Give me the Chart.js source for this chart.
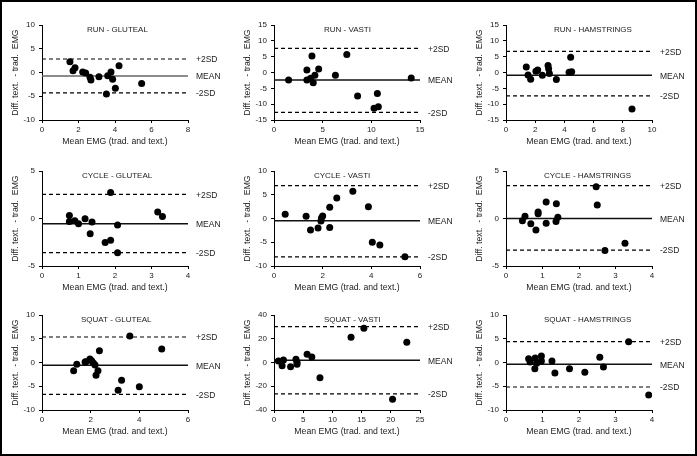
<!DOCTYPE html>
<html>
<head>
<meta charset="utf-8">
<script src="https://cdn.jsdelivr.net/npm/chart.js@4.4.1/dist/chart.umd.min.js"></script>
<style>
  html, body { margin: 0; padding: 0; background: #fff; }
  #frame { position: relative; width: 697px; height: 456px; box-sizing: border-box; border: 2px solid #000; }
  #frame canvas { position: absolute; }
</style>
</head>
<body>
<div id="frame"></div>
<script>
// ---- data (mean EMG vs difference) ----
const runGlutealMean = [1.53, 1.70, 1.81, 2.23, 2.39, 2.63, 2.68, 3.12, 3.53, 3.60, 3.78, 3.87, 4.02, 4.22, 5.46];
const runGlutealDiff = [2.28, 0.39, 1.0, 0.1, -0.1, -1.0, -1.6, -0.9, -4.5, -0.7, 0.1, -1.4, -3.3, 1.4, -2.3];
const runGlutealLimits = [2.84, -0.74, -4.3];

const runVastiMean = [1.5, 3.38, 3.38, 3.76, 3.9, 4.03, 4.2, 4.59, 6.31, 7.48, 8.59, 10.28, 10.62, 10.72, 14.1];
const runVastiDiff = [-2.4, 0.8, -2.4, -1.8, 5.2, -3.2, -0.9, 1.1, -0.9, 5.7, -7.4, -11.3, -6.6, -10.8, -1.7];
const runVastiLimits = [7.6, -2.4, -12.6];

const runHamsMean = [1.39, 1.51, 1.69, 2.05, 2.17, 2.49, 2.88, 2.92, 2.97, 3.45, 4.32, 4.43, 4.5, 8.63];
const runHamsDiff = [1.7, -0.8, -2.1, 0.4, 0.8, -0.9, 2.2, 1.2, -0.3, -2.2, 0.05, 4.8, 0.2, -11.5];
const runHamsLimits = [6.7, -0.9, -7.4];

const cycleGlutealMean = [0.75, 0.75, 0.9, 1.0, 1.18, 1.32, 1.37, 1.73, 1.88, 1.88, 2.07, 2.07, 3.17, 3.3];
const cycleGlutealDiff = [0.31, -0.31, -0.24, -0.56, -0.03, -1.6, -0.38, -2.53, 2.74, -2.29, -0.69, -3.6, 0.69, 0.21];
const cycleGlutealLimits = [2.53, -0.56, -3.6];

const cycleVastiMean = [0.46, 1.32, 1.5, 1.81, 1.93, 1.95, 2.0, 2.29, 2.29, 2.58, 3.24, 3.88, 4.04, 4.35, 5.38];
const cycleVastiDiff = [0.9, 0.49, -2.43, -2.0, -0.55, 0.1, 0.55, -1.9, 2.36, 4.3, 5.76, 2.5, -5.0, -5.6, -8.06];
const cycleVastiLimits = [6.94, -0.49, -8.06];

const cycleHamsMean = [0.45, 0.52, 0.68, 0.82, 0.88, 0.88, 1.1, 1.1, 1.37, 1.38, 1.42, 2.47, 2.5, 2.71, 3.26];
const cycleHamsDiff = [-0.24, 0.24, -0.56, -1.22, 0.69, 0.49, -0.49, 1.74, -0.31, 1.56, 0.14, 3.33, 1.42, -3.37, -2.6];
const cycleHamsLimits = [3.47, 0.0, -3.33];

const squatGlutealMean = [1.3, 1.43, 1.77, 1.8, 1.97, 2.04, 2.11, 2.18, 2.22, 2.3, 2.36, 3.13, 3.27, 3.61, 4.0, 4.92];
const squatGlutealDiff = [-1.72, -0.39, 0.1, 0.15, 0.74, 0.39, -0.1, -0.53, -2.7, -1.72, 2.49, -5.86, -3.75, 5.58, -5.09, 2.84];
const squatGlutealLimits = [5.37, -0.6, -6.7];

const squatVastiMean = [0.75, 1.39, 1.62, 2.84, 3.76, 3.94, 3.94, 5.67, 6.48, 7.87, 13.19, 15.39, 20.3, 22.74];
const squatVastiDiff = [1.26, -2.67, 2.1, -3.5, 2.67, 0.14, -1.54, 6.88, 4.63, -12.77, 21.19, 28.77, -31.0, 16.98];
const squatVastiLimits = [30.2, 1.82, -26.5];

const squatHamsMean = [0.62, 0.66, 0.8, 0.79, 0.84, 0.97, 0.97, 1.26, 1.34, 1.74, 2.16, 2.57, 2.67, 3.36, 3.91];
const squatHamsDiff = [0.81, 0.1, 0.95, -1.3, -0.18, 1.37, 0.32, 0.32, -2.21, -1.3, -2.07, 1.09, -0.95, 4.39, -6.84];
const squatHamsLimits = [4.39, -0.39, -5.16];

// panel titles and axis ranges: [max, step] for x, [min, max, step] for y
const panelTitles = ['RUN - GLUTEAL', 'RUN - VASTI', 'RUN - HAMSTRINGS',
                     'CYCLE - GLUTEAL', 'CYCLE - VASTI', 'CYCLE - HAMSTRINGS',
                     'SQUAT - GLUTEAL', 'SQUAT - VASTI', 'SQUAT - HAMSTRINGS'];
const xRanges = [[8, 2], [15, 5], [10, 2], [4, 1], [6, 2], [4, 1], [6, 2], [25, 5], [4, 1]];
const yRanges = [[-10, 10, 5], [-15, 15, 5], [-15, 15, 5], [-5, 5, 5], [-10, 10, 5], [-5, 5, 5],
                 [-10, 10, 5], [-40, 40, 20], [-10, 10, 5]];
const limitLabels = ['+2SD', 'MEAN', '-2SD'];

const panels = [
  [runGlutealMean, runGlutealDiff, runGlutealLimits],
  [runVastiMean, runVastiDiff, runVastiLimits],
  [runHamsMean, runHamsDiff, runHamsLimits],
  [cycleGlutealMean, cycleGlutealDiff, cycleGlutealLimits],
  [cycleVastiMean, cycleVastiDiff, cycleVastiLimits],
  [cycleHamsMean, cycleHamsDiff, cycleHamsLimits],
  [squatGlutealMean, squatGlutealDiff, squatGlutealLimits],
  [squatVastiMean, squatVastiDiff, squatVastiLimits],
  [squatHamsMean, squatHamsDiff, squatHamsLimits]
];

// ---- layout ----
const CANVAS_W = 232, CANVAS_H = 150;
const colLeft = [0, 232, 464];
const rowTop = [0, 146, 290];
const titleOffset = [45, 50, 48, 40, 40, 38, 39, 50, 38];
const FONT = 'Liberation Sans, Arial, sans-serif';
const TEXT = '#222';

// draws the panel title and the +2SD / MEAN / -2SD labels
const panelText = {
  id: 'panelText',
  afterDraw(chart, args, opts) {
    const {ctx, chartArea, scales} = chart;
    ctx.save();
    ctx.fillStyle = TEXT;
    ctx.font = '8px ' + FONT;
    ctx.textBaseline = 'middle';
    ctx.textAlign = 'left';
    ctx.fillText(opts.title, chartArea.left + opts.titleX, chartArea.top + 5);
    ctx.font = '8.5px ' + FONT;
    opts.limits.forEach((v, k) => {
      ctx.fillText(limitLabels[k], chartArea.right + 8, scales.y.getPixelForValue(v) + 1);
    });
    ctx.restore();
  }
};

function limitLine(v, x0, x1, k) {
  return {
    type: 'line',
    data: [{x: x0, y: v}, {x: x1, y: v}],
    borderColor: k === 1 ? '#111' : '#000',
    borderWidth: k === 1 ? 1.5 : 1.2,
    borderDash: k === 1 ? [] : [4, 3],
    pointRadius: 0,
    fill: false
  };
}

const frame = document.getElementById('frame');

panels.forEach(([xs, ys, limits], i) => {
  const canvas = document.createElement('canvas');
  canvas.width = CANVAS_W;
  canvas.height = CANVAS_H;
  canvas.style.width = CANVAS_W + 'px';
  canvas.style.height = CANVAS_H + 'px';
  canvas.style.left = (colLeft[i % 3] - 2) + 'px';
  canvas.style.top = (rowTop[Math.floor(i / 3)] - 2) + 'px';
  frame.appendChild(canvas);

  const [xMax, xStep] = xRanges[i];
  const [yMin, yMax, yStep] = yRanges[i];

  const lines = limits.map((v, k) => limitLine(v, 0, xMax, k));
  if (i === 0) lines[1].borderColor = '#666';

  new Chart(canvas, {
    type: 'scatter',
    data: {
      datasets: [
        {
          data: xs.map((x, k) => ({x: x, y: ys[k]})),
          backgroundColor: '#000',
          borderColor: '#000',
          pointRadius: 3.5,
          pointBorderWidth: 0
        },
        ...lines
      ]
    },
    options: {
      responsive: false,
      animation: false,
      devicePixelRatio: 1,
      layout: { padding: { left: 0, top: 25, right: 44, bottom: 0 } },
      plugins: {
        legend: { display: false },
        tooltip: { enabled: false },
        panelText: { title: panelTitles[i], titleX: titleOffset[i], limits: limits }
      },
      scales: {
        x: {
          type: 'linear',
          min: 0,
          max: xMax,
          afterFit: s => { s.height = 30; },
          ticks: { stepSize: xStep, autoSkip: false, maxRotation: 0, padding: 2,
                   color: TEXT, font: { family: FONT, size: 8 } },
          grid: { display: true, drawOnChartArea: false, drawTicks: true, tickLength: 3, color: '#000' },
          border: { display: true, color: '#000', width: 1 },
          title: { display: true, text: 'Mean EMG (trad. and text.)', color: TEXT,
                   font: { family: FONT, size: 8.7 }, padding: { top: 0, bottom: 3 } }
        },
        y: {
          type: 'linear',
          min: yMin,
          max: yMax,
          afterFit: s => { s.width = 42; },
          ticks: { stepSize: yStep, autoSkip: false, padding: 4,
                   color: TEXT, font: { family: FONT, size: 8 } },
          grid: { display: true, drawOnChartArea: false, drawTicks: true, tickLength: 3, color: '#000' },
          border: { display: true, color: '#000', width: 1 },
          title: { display: true, text: 'Diff. text.  - trad.  EMG', color: TEXT,
                   font: { family: FONT, size: 8.7 }, padding: { top: 10, bottom: 0 } }
        }
      }
    },
    plugins: [panelText]
  });
});
</script>
</body>
</html>
